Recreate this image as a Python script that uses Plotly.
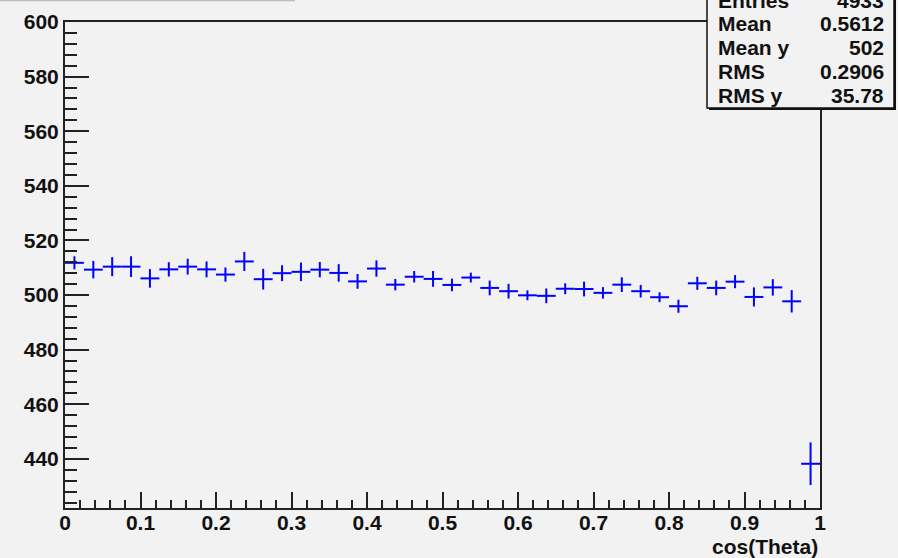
import plotly.graph_objects as go

# Profile of y versus cos(Theta): 40 bins over [0, 1]
n_bins = 40
x_lo, x_hi = 0.0, 1.0
bin_means = [511.8, 509.3, 510.4, 510.4, 506.1, 509.4, 510.4, 509.4, 507.5, 512.3,
             505.8, 508.0, 508.5, 509.3, 508.1, 505.0, 509.7, 503.8, 506.7, 505.9,
             503.7, 506.4, 502.6, 501.4, 499.9, 499.7, 502.3, 502.2, 500.8, 503.8,
             501.4, 499.2, 495.9, 504.3, 502.6, 504.9, 499.3, 502.8, 497.7, 438.2]
bin_errors = [2.4, 3.2, 3.5, 3.8, 3.4, 2.6, 2.9, 2.9, 2.6, 3.5,
              3.8, 2.9, 3.4, 2.8, 3.2, 2.7, 3.0, 2.1, 2.1, 2.9,
              2.3, 1.8, 2.7, 2.7, 1.8, 2.7, 2.0, 2.7, 2.1, 2.7,
              2.3, 1.8, 2.4, 2.4, 2.7, 2.4, 3.5, 3.0, 4.1, 7.8]

stat_names = ["Entries", "Mean", "Mean y", "RMS", "RMS y"]
stat_values = ["4933", "0.5612", "502", "0.2906", "35.78"]

x_tickvals = [0.0, 0.1, 0.2, 0.3, 0.4, 0.5, 0.6, 0.7, 0.8, 0.9, 1.0]
x_ticktext = ["0", "0.1", "0.2", "0.3", "0.4", "0.5", "0.6", "0.7", "0.8", "0.9", "1"]

width = (x_hi - x_lo) / n_bins
centers = [x_lo + (i + 0.5) * width for i in range(n_bins)]

BG = "#f2f2f2"
FONT = "Liberation Sans"
INK = "#111111"
W, H = 898, 558
L, R, T, B = 65, 78, 22, 50
pw, ph = W - L - R, H - T - B


def px_x(p):
    return (p - L) / pw


def px_y(p):
    return (H - B - p) / ph


fig = go.Figure()
fig.add_trace(go.Scatter(
    x=centers, y=bin_means, mode="markers",
    marker=dict(size=1, color="#0000ff"),
    error_x=dict(type="constant", value=width / 2, width=0, thickness=2, color="#0000ff"),
    error_y=dict(type="data", array=bin_errors, width=0, thickness=2, color="#0000ff"),
    showlegend=False, hoverinfo="skip",
))

axis_common = dict(
    showgrid=False, zeroline=False, showline=True, linecolor="#222222", linewidth=2,
    mirror=True, ticks="inside", tickcolor="#222222", tickwidth=1.5, automargin=False,
    tickfont=dict(family=FONT, size=21, color=INK, weight="bold"),
)
fig.update_xaxes(
    range=[x_lo, x_hi], tickmode="array", tickvals=x_tickvals, ticktext=x_ticktext,
    ticklen=16, tickangle=0, ticklabelstandoff=-5,
    minor=dict(dtick=0.02, tick0=0, ticklen=8, ticks="inside", tickcolor="#222222", tickwidth=1.5),
    **axis_common,
)
fig.update_yaxes(
    range=[422, 600], dtick=20, tick0=0, ticklen=24,
    minor=dict(dtick=4, tick0=0, ticklen=12, ticks="inside", tickcolor="#222222", tickwidth=1.5),
    **axis_common,
)

shapes = [
    # title pad edge at the very top
    dict(type="line", xref="paper", yref="paper", x0=px_x(0), x1=px_x(295),
         y0=px_y(0.5), y1=px_y(0.5), line=dict(color="#bdbdbd", width=1.5), layer="above"),
    # statistics box shadow and box
    dict(type="rect", xref="paper", yref="paper", x0=px_x(709), x1=px_x(896),
         y0=px_y(110), y1=px_y(-5), fillcolor=INK, line=dict(width=0), layer="above"),
    dict(type="rect", xref="paper", yref="paper", x0=px_x(707), x1=px_x(894),
         y0=px_y(108), y1=px_y(-5), fillcolor=BG, line=dict(color=INK, width=1.5),
         layer="above"),
]

annotations = []
row_y = [0, 24, 47.5, 72, 96]
for name, val, yy in zip(stat_names, stat_values, row_y):
    annotations.append(dict(xref="paper", yref="paper", x=px_x(716), y=px_y(yy),
                            text=name, showarrow=False, xanchor="left", yanchor="middle",
                            font=dict(family=FONT, size=21, color=INK, weight="bold")))
    annotations.append(dict(xref="paper", yref="paper", x=px_x(886), y=px_y(yy),
                            text=val, showarrow=False, xanchor="right", yanchor="middle",
                            font=dict(family=FONT, size=21, color=INK, weight="bold")))
annotations.append(dict(xref="paper", yref="paper", x=px_x(820), y=px_y(546),
                        text="cos(Theta)", showarrow=False, xanchor="right", yanchor="middle",
                        font=dict(family=FONT, size=21, color=INK, weight="bold")))

fig.update_layout(
    width=W, height=H, margin=dict(l=L, r=R, t=T, b=B, pad=0),
    paper_bgcolor=BG, plot_bgcolor=BG,
    shapes=shapes, annotations=annotations,
)

fig.write_html("out.html", config={"displayModeBar": False})
